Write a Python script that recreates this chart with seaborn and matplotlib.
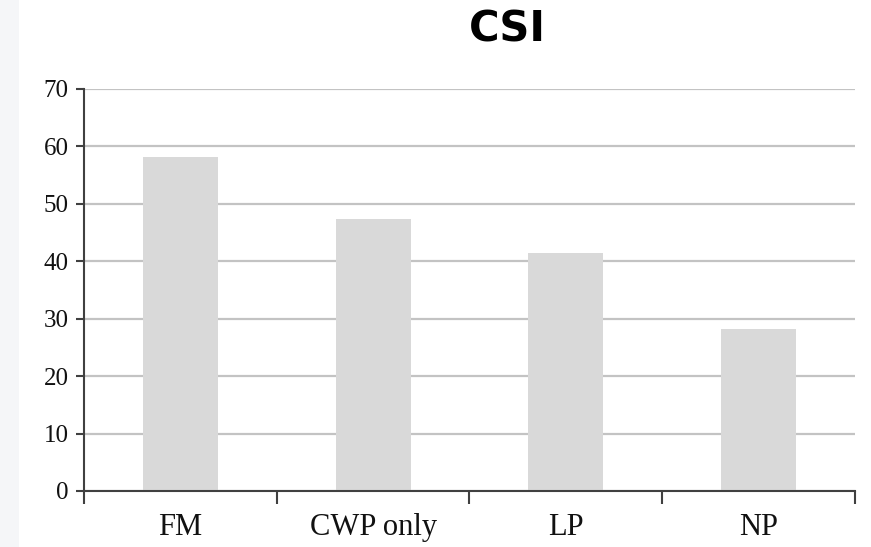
import matplotlib
matplotlib.use("Agg")
import matplotlib.pyplot as plt
import seaborn as sns
import pandas as pd
from matplotlib.patches import Rectangle
from matplotlib.ticker import FixedLocator, NullFormatter

# CSI score per group
categories = ["FM", "CWP only", "LP", "NP"]
csi_values = [58.2, 47.4, 41.5, 28.2]
y_ticks = [0, 10, 20, 30, 40, 50, 60, 70]

df = pd.DataFrame({"group": categories, "csi": csi_values})

sns.set_style("white")
plt.rcParams["font.family"] = ["DejaVu Sans"]

fig = plt.figure(figsize=(8.71, 5.47), dpi=100)
fig.patch.set_facecolor("white")

# faint shaded strip along the left edge
fig.patches.append(Rectangle((0, 0), 0.022, 1, transform=fig.transFigure,
                             facecolor="#f5f6f8", edgecolor="none", zorder=0))

ax = fig.add_axes([0.0964, 0.1024, 0.8852, 0.7349])

sns.barplot(data=df, x="group", y="csi", color="#d9d9d9", saturation=1,
            width=0.39, linewidth=0, edgecolor="none", ax=ax, zorder=3)

ax.set_ylim(0, 70)
ax.set_xlim(-0.5, len(categories) - 0.5)
ax.set_yticks(y_ticks)
ax.yaxis.grid(True, color="#c3c3c3", linewidth=1.6, zorder=0)
ax.xaxis.grid(False)
ax.set_axisbelow(True)

# category labels at bar centers, tick marks at category boundaries
ax.xaxis.set_major_locator(FixedLocator([i - 0.5 for i in range(len(categories) + 1)]))
ax.xaxis.set_major_formatter(NullFormatter())
ax.xaxis.set_minor_locator(FixedLocator(list(range(len(categories)))))
ax.set_xticklabels(categories, minor=True)
ax.tick_params(axis="x", which="major", direction="out", length=9, width=1.5,
               color="#404040", bottom=True)
ax.tick_params(axis="x", which="minor", length=0, pad=16, labelsize=22,
               labelcolor="#111111")
for lbl in ax.get_xticklabels(minor=True):
    lbl.set_family(["Liberation Serif"])

ax.tick_params(axis="y", direction="out", length=6, width=1.5, color="#404040",
               left=True, labelsize=18, labelcolor="#111111", pad=5)
for lbl in ax.get_yticklabels():
    lbl.set_family(["Liberation Serif"])

ax.set_xlabel("")
ax.set_ylabel("")
for side in ["top", "right"]:
    ax.spines[side].set_visible(False)
for side in ["left", "bottom"]:
    ax.spines[side].set_color("#404040")
    ax.spines[side].set_linewidth(1.5)
    ax.spines[side].set_zorder(4)

fig.text(507 / 871, 1 - 30 / 547, "CSI", ha="center", va="center",
         fontsize=30, fontweight="bold", color="#000000")

fig.savefig("out.png", dpi=100, facecolor="white")
